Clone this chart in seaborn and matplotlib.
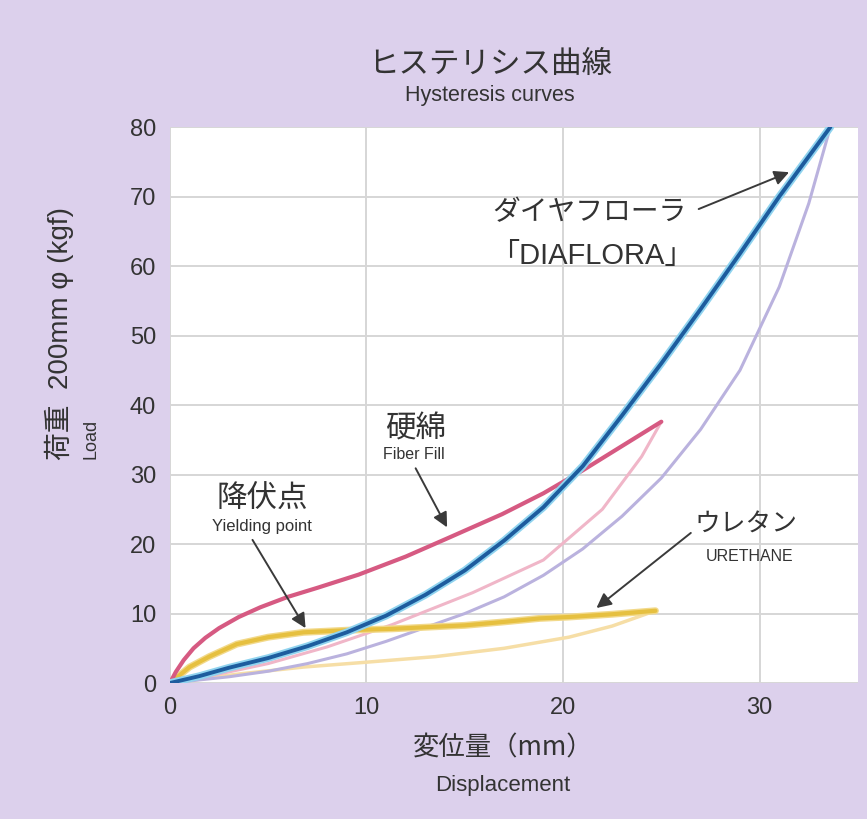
import numpy as np
import pandas as pd
import matplotlib
matplotlib.use("Agg")
import matplotlib.pyplot as plt
import seaborn as sns

# data: displacement (mm) vs load (kgf)
dia_load_x = [0, 1.5, 3, 5, 7, 9, 11, 13, 15, 17, 19, 21, 23, 25, 27, 29, 31, 33.6]
dia_load_y = [0, 1.0, 2.2, 3.6, 5.3, 7.3, 9.7, 12.7, 16.2, 20.5, 25.3, 31.2, 38.5, 46.0, 53.8, 61.8, 70.0, 80.0]
dia_unload_x = [33.6, 32.5, 31, 29, 27, 25, 23, 21, 19, 17, 15, 13, 11, 9, 7, 5, 3, 0]
dia_unload_y = [80, 69, 57, 45, 36.5, 29.5, 24.0, 19.3, 15.5, 12.4, 10.0, 8.0, 6.0, 4.2, 2.8, 1.7, 0.9, 0]

fib_load_x = [0, 0.3, 0.7, 1.2, 1.8, 2.5, 3.5, 4.6, 6, 7.5, 9.6, 12, 14.1, 16.9, 19, 21, 23, 25]
fib_load_y = [0, 1.6, 3.3, 5.0, 6.5, 7.9, 9.5, 10.9, 12.4, 13.7, 15.6, 18.2, 20.8, 24.3, 27.3, 30.6, 34.1, 37.6]
fib_unload_x = [25, 24, 22, 19, 15.4, 11.3, 8, 5, 2, 0]
fib_unload_y = [37.6, 32.6, 25, 17.7, 13, 8.4, 5.2, 2.8, 1.0, 0]

ure_load_x = [0, 1, 2, 3.4, 5, 6.8, 9, 11.3, 13.5, 15, 17, 18.8, 20.3, 22.5, 24.7]
ure_load_y = [0, 2.3, 3.8, 5.6, 6.6, 7.3, 7.6, 7.8, 8.1, 8.3, 8.8, 9.3, 9.5, 9.9, 10.4]
ure_unload_x = [24.7, 22.5, 20.3, 17, 13.5, 10, 6.8, 3.5, 0]
ure_unload_y = [10.4, 8.2, 6.6, 5.0, 3.8, 3.0, 2.3, 1.3, 0]

x_ticks = [0, 10, 20, 30]
y_ticks = [0, 10, 20, 30, 40, 50, 60, 70, 80]

bg = "#dcd0ec"
txt = "#333333"
arrow_col = "#3a3a3a"
latin = ['Liberation Sans', 'Noto Sans CJK JP', 'DejaVu Sans']

sns.set_style("whitegrid")
plt.rcParams['font.family'] = ['Noto Sans CJK JP', 'DejaVu Sans']
plt.rcParams['axes.unicode_minus'] = False

fig = plt.figure(figsize=(8.67, 8.19), dpi=100, facecolor=bg)
ax = fig.add_axes([0.196, 0.166, 0.7935, 0.6789])
ax.set_facecolor("white")

def curve(xs, ys, color, lw, z):
    df = pd.DataFrame({"x": xs, "y": ys})
    sns.lineplot(data=df, x="x", y="y", sort=False, estimator=None, ax=ax,
                 color=color, linewidth=lw, zorder=z)

# unloading (light) curves first
curve(ure_unload_x, ure_unload_y, "#f6dea6", 2.5, 3)
curve(fib_unload_x, fib_unload_y, "#f0b6c8", 2.2, 3)
curve(dia_unload_x, dia_unload_y, "#bab2de", 2.2, 3)
# loading curves
curve(ure_load_x, ure_load_y, "#f2d98a", 5, 4)
curve(ure_load_x, ure_load_y, "#e6c040", 3, 4)
curve(fib_load_x, fib_load_y, "#d65a82", 3, 5)
curve(dia_load_x, dia_load_y, "#8fd3ef", 5.5, 6)
curve(dia_load_x, dia_load_y, "#1d5c9e", 2.8, 6)

ax.set_xlim(0, 35)
ax.set_ylim(0, 80)
ax.set_xticks(x_ticks)
ax.set_yticks(y_ticks)
ax.set_xlabel("")
ax.set_ylabel("")
ax.grid(True, color="#d6d6d6", linewidth=1.4)
for s in ax.spines.values():
    s.set_visible(False)
ax.tick_params(axis='both', length=0, labelsize=17, colors=txt)
ax.tick_params(axis='x', pad=10)
ax.tick_params(axis='y', pad=10)
for lab in ax.get_xticklabels() + ax.get_yticklabels():
    lab.set_family(latin)

# annotations
arrow = dict(arrowstyle='-|>', color=arrow_col, lw=1.4, mutation_scale=22, shrinkA=0, shrinkB=0)
ax.annotate('', xy=(31.5, 73.5), xytext=(26.9, 68.2), arrowprops=arrow, zorder=8)
ax.annotate('', xy=(14.1, 22.4), xytext=(12.5, 30.9), arrowprops=arrow, zorder=8)
ax.annotate('', xy=(6.9, 7.9), xytext=(4.2, 20.6), arrowprops=arrow, zorder=8)
ax.annotate('', xy=(21.7, 10.8), xytext=(26.5, 21.6), arrowprops=arrow, zorder=8)

ax.text(16.4, 67.7, "ダイヤフローラ", fontsize=20, color=txt, ha='left', va='center', zorder=9)
ax.text(16.3, 61.4, "「DIAFLORA」", fontsize=21, color=txt, ha='left', va='center',
        family=latin, zorder=9)
ax.text(12.5, 36.5, "硬綿", fontsize=22, color=txt, ha='center', va='center', zorder=9)
ax.text(12.4, 32.9, "Fiber Fill", fontsize=11.5, color=txt, ha='center', va='center',
        family=latin, zorder=9)
ax.text(4.7, 26.4, "降伏点", fontsize=22, color=txt, ha='center', va='center', zorder=9)
ax.text(4.7, 22.5, "Yielding point", fontsize=12, color=txt, ha='center', va='center',
        family=latin, zorder=9)
ax.text(29.3, 22.8, "ウレタン", fontsize=18.5, color=txt, ha='center', va='center', zorder=9)
ax.text(29.5, 18.2, "URETHANE", fontsize=11.5, color=txt, ha='center', va='center',
        family=latin, zorder=9)

# titles and axis labels
fig.text(0.565, 0.921, "ヒステリシス曲線", fontsize=22, color=txt, ha='center', va='center')
fig.text(0.565, 0.884, "Hysteresis curves", fontsize=15.5, color=txt, ha='center', va='center',
         family=latin)
fig.text(0.58, 0.087, "変位量（mm）", fontsize=19, color=txt, ha='center', va='center')
fig.text(0.58, 0.0415, "Displacement", fontsize=16, color=txt, ha='center', va='center',
         family=latin)
fig.text(0.069, 0.438, "荷重  200mm φ (kgf)", fontsize=20, color=txt, rotation=90,
         ha='center', va='bottom', family=latin)
fig.text(0.105, 0.440, "Load", fontsize=13, color=txt, rotation=90, ha='center', va='bottom',
         family=latin)

plt.savefig("out.png", dpi=100, facecolor=bg)
